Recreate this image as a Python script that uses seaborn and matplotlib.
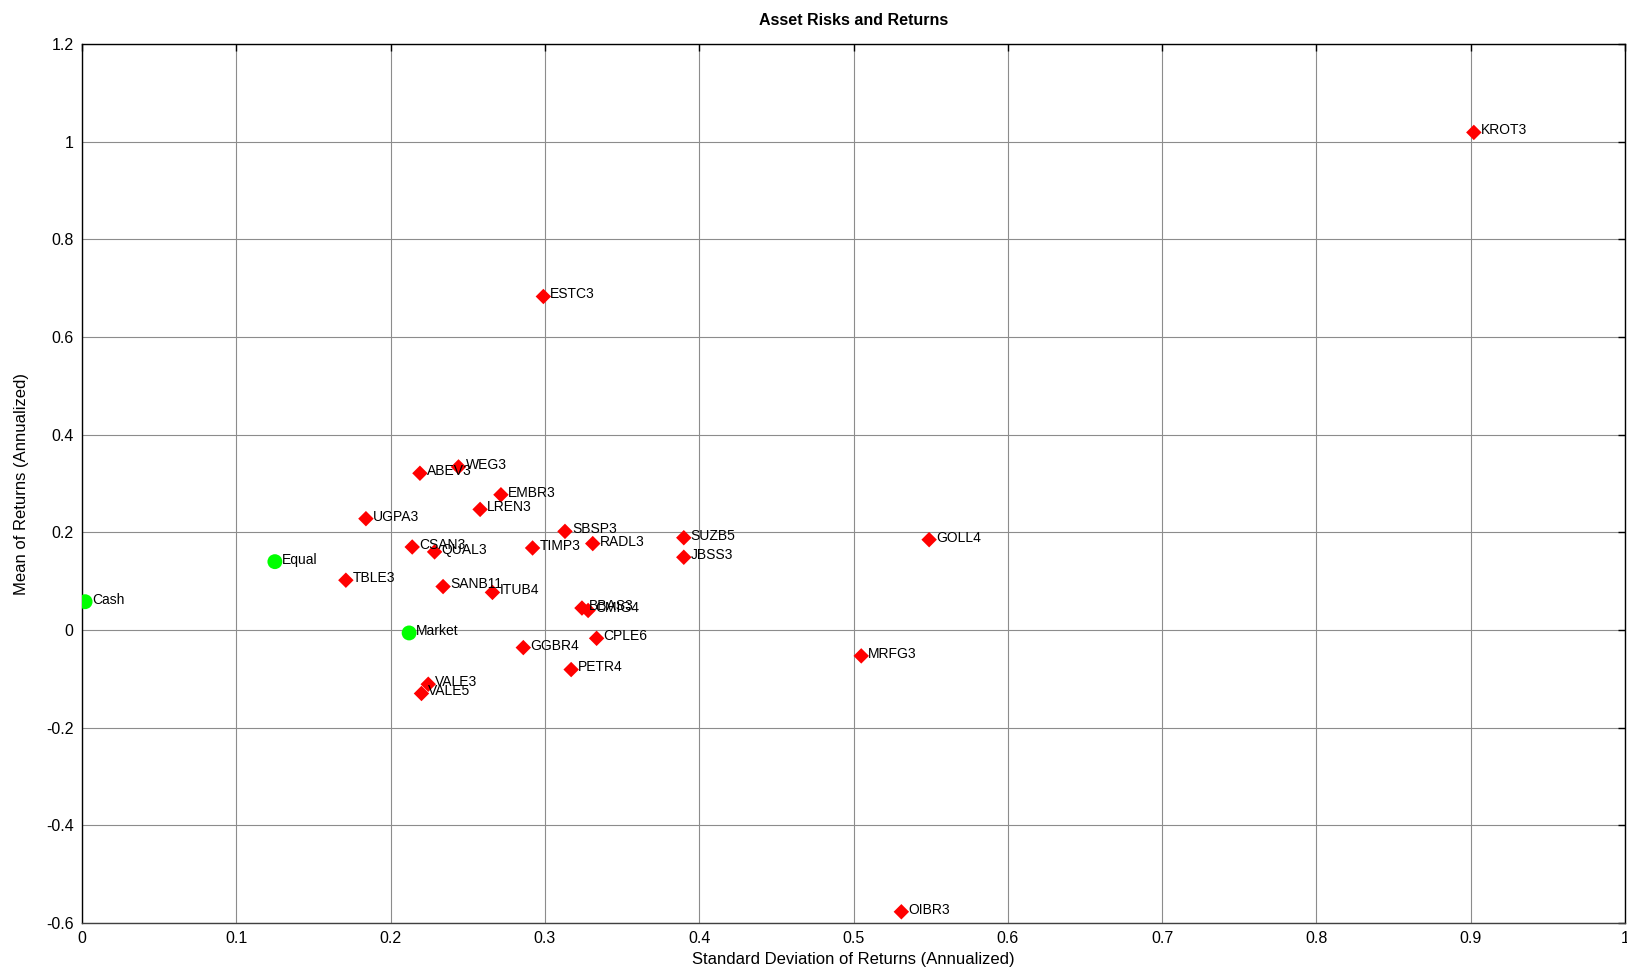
import matplotlib
matplotlib.use("Agg")
import matplotlib.pyplot as plt
from matplotlib.ticker import FormatStrFormatter, MultipleLocator
import pandas as pd
import seaborn as sns

# Asset data (annualized std dev, annualized mean)
assets = ["KROT3", "ESTC3", "WEG3", "ABEV3", "EMBR3", "LREN3", "UGPA3", "SBSP3",
          "SUZB5", "GOLL4", "RADL3", "CSAN3", "TIMP3", "QUAL3", "JBSS3", "TBLE3",
          "SANB11", "ITUB4", "BBAS3", "CMIG4", "CPLE6", "GGBR4", "PETR4", "MRFG3",
          "VALE3", "VALE5", "OIBR3"]
asset_risk = [0.902, 0.299, 0.244, 0.219, 0.2715, 0.258, 0.184, 0.313,
              0.390, 0.549, 0.331, 0.214, 0.292, 0.2285, 0.390, 0.171,
              0.234, 0.266, 0.324, 0.328, 0.3335, 0.286, 0.317, 0.505,
              0.2244, 0.220, 0.531]
asset_return = [1.019, 0.683, 0.334, 0.321, 0.277, 0.247, 0.228, 0.202,
                0.189, 0.185, 0.177, 0.170, 0.168, 0.160, 0.149, 0.102,
                0.089, 0.077, 0.045, 0.040, -0.017, -0.036, -0.081, -0.053,
                -0.111, -0.130, -0.577]

# Benchmark portfolios
bench = ["Cash", "Equal", "Market"]
bench_risk = [0.002, 0.125, 0.212]
bench_return = [0.058, 0.140, -0.006]

df_assets = pd.DataFrame({"name": assets, "risk": asset_risk, "ret": asset_return})
df_bench = pd.DataFrame({"name": bench, "risk": bench_risk, "ret": bench_return})

sns.set_style("white")
plt.rcParams["font.family"] = ["Liberation Sans", "DejaVu Sans"]
plt.rcParams["text.color"] = "black"
plt.rcParams["axes.labelcolor"] = "black"

fig = plt.figure(figsize=(16.27, 9.72), dpi=100)
ax = fig.add_axes([0.0504, 0.0504, 0.9484, 0.9043])

sns.scatterplot(data=df_bench, x="risk", y="ret", ax=ax, color="#00ff00",
                marker="o", s=115, edgecolor="none", zorder=3)
sns.scatterplot(data=df_assets, x="risk", y="ret", ax=ax, color="#ff0000",
                marker="D", s=62, edgecolor="none", zorder=3)

# point labels, to the right of each marker
for df in (df_bench, df_assets):
    for _, r in df.iterrows():
        ax.annotate(r["name"], (r["risk"], r["ret"]), xytext=(5, 1.5),
                    textcoords="offset points", fontsize=10, ha="left",
                    va="center", color="black", zorder=4)

ax.set_xlim(0, 1)
ax.set_ylim(-0.6, 1.2)
ax.xaxis.set_major_locator(MultipleLocator(0.1))
ax.yaxis.set_major_locator(MultipleLocator(0.2))
ax.xaxis.set_major_formatter(FormatStrFormatter("%g"))
ax.yaxis.set_major_formatter(FormatStrFormatter("%g"))

ax.grid(True, color="#8c8c8c", linewidth=0.8)
ax.set_axisbelow(True)
for s in ax.spines.values():
    s.set_color("black")
    s.set_linewidth(1.0)
ax.spines["bottom"].set_color("#404040")
ax.tick_params(direction="in", length=5, width=1, top=True, right=True,
               labelsize=11.5, colors="black", pad=6)

ax.set_title("Asset Risks and Returns", fontsize=11.5, fontweight="bold", pad=14)
ax.set_xlabel("Standard Deviation of Returns (Annualized)", fontsize=12, labelpad=4)
ax.set_ylabel("Mean of Returns (Annualized)", fontsize=12, labelpad=12)

fig.savefig("out.png", dpi=100)
